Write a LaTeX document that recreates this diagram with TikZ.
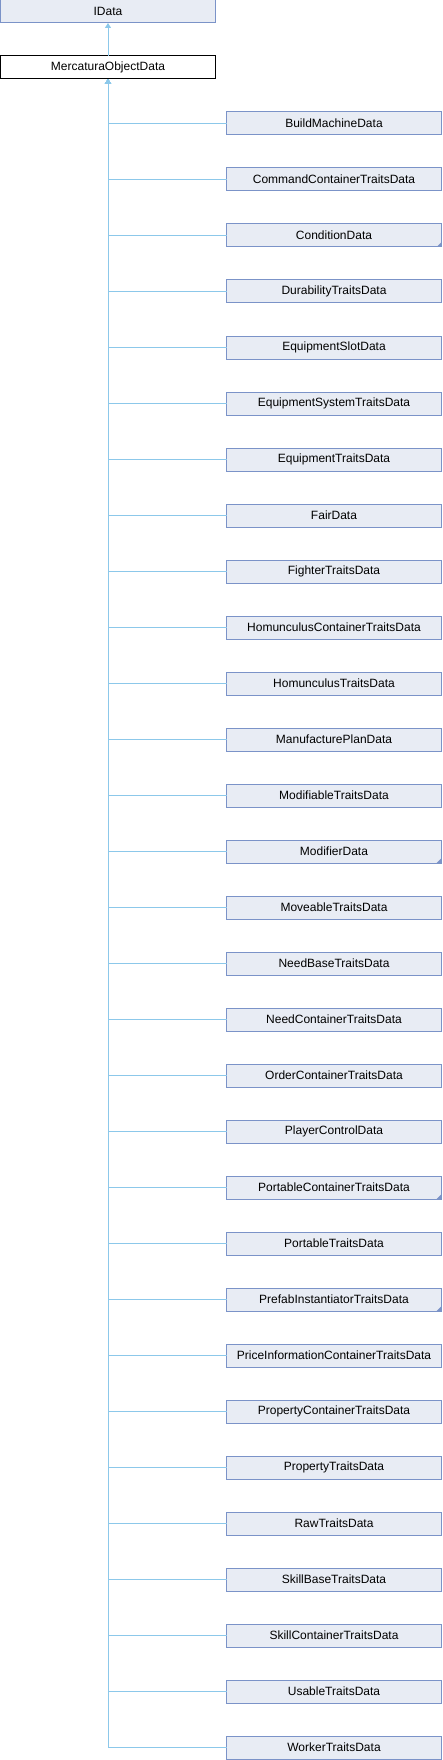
\documentclass[tikz,border=0pt]{standalone}
\usepackage{fontspec}
\setmainfont{Liberation Sans}
\usetikzlibrary{positioning,arrows.meta}
\definecolor{boxfill}{HTML}{E8ECF4}
\definecolor{boxline}{HTML}{7B93C8}
\definecolor{edgeblue}{HTML}{8CC8EA}
\tikzset{
  cls/.style={draw=boxline, fill=boxfill, line width=1pt, minimum width=215pt, minimum height=23pt,
    inner sep=0pt, outer sep=0pt, font=\fontsize{12}{14}\selectfont},
  cur/.style={cls, draw=black, fill=white},
  more/.style={path picture={\fill[boxline] (path picture bounding box.south east) -- ++(-5pt,0) -- ++(5pt,5pt) -- cycle;}},
  kid/.style={cls, below=33pt of #1},
  edge/.style={draw=edgeblue, line width=1pt, {Triangle[length=5pt,width=6pt]}-}
}
\begin{document}
\begin{tikzpicture}[x=1pt,y=-1pt]
\useasboundingbox (0,0) rectangle (442,1760);
% nodes
\node[cls] (idata) at (108,11.5) {IData};
\node[cur] (mod) at (108,67.5) {MercaturaObjectData};

\node[cls] (c1) at (334,123.5) {BuildMachineData};
\node[kid=c1] (c2) {CommandContainerTraitsData};
\node[kid=c2, more] (c3) {ConditionData};
\node[kid=c3] (c4) {DurabilityTraitsData};
\node[kid=c4] (c5) {EquipmentSlotData};
\node[kid=c5] (c6) {EquipmentSystemTraitsData};
\node[kid=c6] (c7) {EquipmentTraitsData};
\node[kid=c7] (c8) {FairData};
\node[kid=c8] (c9) {FighterTraitsData};
\node[kid=c9] (c10) {HomunculusContainerTraitsData};
\node[kid=c10] (c11) {HomunculusTraitsData};
\node[kid=c11] (c12) {ManufacturePlanData};
\node[kid=c12] (c13) {ModifiableTraitsData};
\node[kid=c13, more] (c14) {ModifierData};
\node[kid=c14] (c15) {MoveableTraitsData};
\node[kid=c15] (c16) {NeedBaseTraitsData};
\node[kid=c16] (c17) {NeedContainerTraitsData};
\node[kid=c17] (c18) {OrderContainerTraitsData};
\node[kid=c18] (c19) {PlayerControlData};
\node[kid=c19, more] (c20) {PortableContainerTraitsData};
\node[kid=c20] (c21) {PortableTraitsData};
\node[kid=c21, more] (c22) {PrefabInstantiatorTraitsData};
\node[kid=c22] (c23) {PriceInformationContainerTraitsData};
\node[kid=c23] (c24) {PropertyContainerTraitsData};
\node[kid=c24] (c25) {PropertyTraitsData};
\node[kid=c25] (c26) {RawTraitsData};
\node[kid=c26] (c27) {SkillBaseTraitsData};
\node[kid=c27] (c28) {SkillContainerTraitsData};
\node[kid=c28] (c29) {UsableTraitsData};
\node[kid=c29] (c30) {WorkerTraitsData};

% edges
\draw[edge] (idata) -- (mod);
\foreach \i in {1,...,30}
  \draw[edge] (mod.south) |- (c\i.west);
\end{tikzpicture}
\end{document}
